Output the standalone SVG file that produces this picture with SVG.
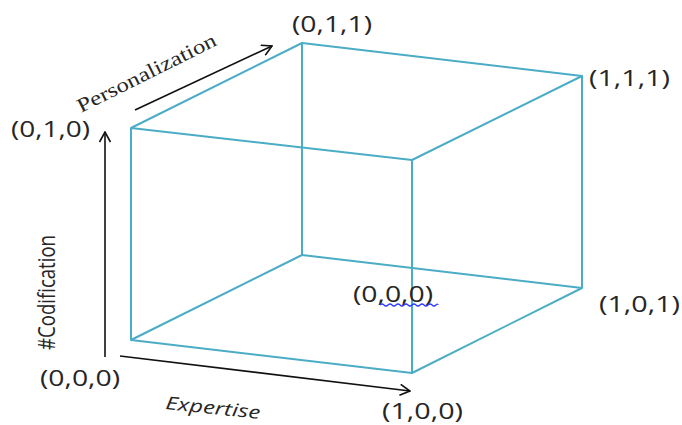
<svg xmlns="http://www.w3.org/2000/svg" width="682" height="425" viewBox="0 0 682 425">
  <style>
    .edge { fill: none; stroke: #4BACC6; stroke-width: 2; stroke-linejoin: round; }
    .axis { fill: none; stroke: #111; stroke-width: 1.6; }
    .lbl { font-family: "Open Sans", "Liberation Sans", sans-serif; font-size: 21px; fill: #262626; }
    .axlbl { font-family: "Open Sans", "Liberation Sans", sans-serif; fill: #262626; }
    .serif { font-family: "Liberation Serif", "Times New Roman", serif; fill: #262626; }
  </style>
  <defs>
    <marker id="arr" viewBox="0 0 12 12" refX="11" refY="6" markerWidth="12" markerHeight="12" markerUnits="userSpaceOnUse" orient="auto">
      <path d="M1,0.5 L11,6 L1,11.5" fill="none" stroke="#111" stroke-width="1.6"/>
    </marker>
  </defs>
  <rect width="682" height="425" fill="#ffffff"/>

  <g id="cube">
    <polygon class="edge" points="302,43 582,76 582,288 302,255"/>
    <line class="edge" x1="131" y1="128" x2="302" y2="43"/>
    <line class="edge" x1="412" y1="160" x2="582" y2="76"/>
    <line class="edge" x1="412" y1="373" x2="582" y2="288"/>
    <line class="edge" x1="131" y1="340" x2="302" y2="255"/>
    <polygon class="edge" points="131,128 412,160 412,373 131,340"/>
  </g>

  <g id="connectors">
    <line class="axis" x1="105" y1="357" x2="105" y2="132" marker-end="url(#arr)"/>
    <line class="axis" x1="135" y1="110" x2="272" y2="46" marker-end="url(#arr)"/>
    <line class="axis" x1="120" y1="356" x2="410" y2="391" marker-end="url(#arr)"/>
  </g>

  <g id="axis-personalization">
    <text class="serif" font-size="20" transform="translate(81,113) rotate(-26.5)" textLength="153" lengthAdjust="spacingAndGlyphs">Personalization</text>
  </g>
  <g id="axis-codification">
    <text class="axlbl" font-size="18" transform="translate(55,350) scale(1.3,1) rotate(-90)" textLength="115" lengthAdjust="spacingAndGlyphs">#Codification</text>
  </g>
  <g id="axis-expertise">
    <text class="axlbl" font-size="18" font-style="italic" transform="translate(165,409) rotate(6)" textLength="95" lengthAdjust="spacingAndGlyphs">Expertise</text>
  </g>

  <g id="v011"><text class="lbl" x="292" y="32" textLength="80" lengthAdjust="spacingAndGlyphs">(0,1,1)</text></g>
  <g id="v111"><text class="lbl" x="589" y="86" textLength="81" lengthAdjust="spacingAndGlyphs">(1,1,1)</text></g>
  <g id="v010"><text class="lbl" x="11" y="137" textLength="79" lengthAdjust="spacingAndGlyphs">(0,1,0)</text></g>
  <g id="v101"><text class="lbl" x="599" y="312" textLength="81" lengthAdjust="spacingAndGlyphs">(1,0,1)</text></g>
  <g id="v000-center">
    <text class="lbl" x="353" y="302" textLength="80" lengthAdjust="spacingAndGlyphs">(0,0,0)</text>
    <path d="M380,305 q2,-2 4,0 t4,0 t4,0 t4,0 t4,0 t4,0 t4,0 t4,0 t4,0 t4,0 t4,0 t4,0 t4,0 t4,0 t2,0" fill="none" stroke="#2b3cff" stroke-width="1.2"/>
  </g>
  <g id="v000"><text class="lbl" x="40" y="386" textLength="80" lengthAdjust="spacingAndGlyphs">(0,0,0)</text></g>
  <g id="v100"><text class="lbl" x="382" y="419" textLength="81" lengthAdjust="spacingAndGlyphs">(1,0,0)</text></g>
</svg>
